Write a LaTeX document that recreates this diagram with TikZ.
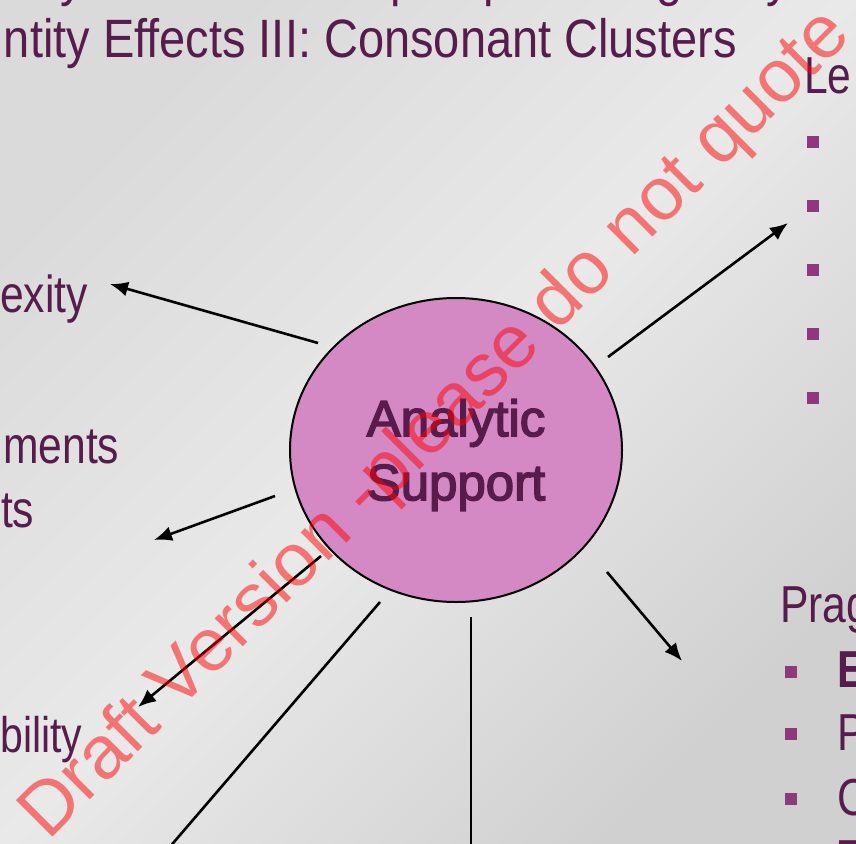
\documentclass[tikz,border=0pt]{standalone}
\usepackage{fontspec}
\usepackage{tikz}
\usetikzlibrary{arrows.meta}
\usetikzlibrary{shapes.geometric}
\newfontfamily\titlefont{Liberation Sans}[FakeStretch=0.87]
\newfontfamily\slidefont{Liberation Sans}[FakeStretch=0.82]
\newfontfamily\hubfont{Liberation Sans}[FakeBold=3]
\newfontfamily\stampfont{Liberation Sans}
\definecolor{plum}{HTML}{581C4C}
\definecolor{bulletplum}{HTML}{8C3A7C}
\definecolor{hubpink}{HTML}{D488C4}
\definecolor{bgmid}{HTML}{E9E9E9}
\definecolor{bgtop}{HTML}{DADADA}
\definecolor{bgbottom}{HTML}{D0D0D0}
\tikzset{
    slidetext/.style={text=plum, inner sep=0pt, font=\slidefont\fontsize{52}{60}\selectfont},
    titletext/.style={slidetext, font=\titlefont\fontsize{54}{62}\selectfont},
    bulletsq/.style={fill=bulletplum, minimum size=12.5pt, inner sep=0pt},
    spoke/.style={line width=2.6pt},
    spokearrow/.style={spoke, -{Latex[length=18pt,width=15pt]}}
}

\begin{document}
\begin{tikzpicture}[x=1pt, y=-1pt]
\useasboundingbox (0,0) rectangle (856,843);
\shade[top color=bgtop, bottom color=bgbottom, middle color=bgmid, shading angle=45] (0,0) rectangle (856,843);

% title, upper line mostly off the page
\foreach \x/\g in {60/y, 390/p, 483/p, 656/g, 766/y}{
    \node[titletext, anchor=base west] (top\x) at (\x,-4) {\g};
}
\node[titletext, anchor=base east] (title) at (737,58) {ntity Effects III: Consonant Clusters};

% left labels
\foreach \x/\y/\p/\t in {88/312/lexity/exity, 119.5/463/lments/ments, 34.5/527/lts/ts}{
    \node[slidetext, anchor=base east] (\p) at (\x,\y) {\t};
}
\node[slidetext, anchor=base east, font=\slidefont\fontsize{50}{58}\selectfont] (lbility) at (82.5,752) {bility};

% right lists
\node[slidetext, anchor=base west] (lex) at (804,93) {Le};
\foreach \y in {142,206,270,334,398}
    \node[bulletsq] (lexb\y) at (813,\y) {};
\node[slidetext, anchor=base west] (prag) at (780,622) {Prag};
\foreach \y in {672,734,799}
    \node[bulletsq] (pragb\y) at (791,\y) {};
\node[slidetext, anchor=base west] (pragE) at (837,687) {\bfseries E};
\node[slidetext, anchor=base west] (pragP) at (837,750) {P};
\node[slidetext, anchor=base west] (pragC) at (837,815) {C};
\node[slidetext, anchor=base west] (pragT) at (838,876) {T};

% hub
\node[ellipse, draw, line width=2pt, fill=hubpink, minimum width=332pt, minimum height=304pt, inner sep=0pt] (hub) at (456,450) {};
\node[text=plum, align=center, inner sep=0pt, font=\hubfont\fontsize{51}{64}\selectfont] (hubtext) at ([yshift=-5pt]hub.center) {Analytic\\Support};

% spokes
\foreach \x/\y/\p in {318/343/exout, 110/284/exin, 275/496/tsout, 154/540/tsin, 321/556/biout, 138/707/biin,
    380/602/lowout, 150/870/lowend, 471/617/midout, 471/870/midend, 607/572/pragout, 682/661/pragin, 608/357/lexout, 788/223/lexin}{
    \coordinate (\p) at (\x,\y);
}
\foreach \a/\b in {exout/exin, tsout/tsin, biout/biin, pragout/pragin, lexout/lexin}
    \draw[spokearrow] (\a) -- (\b);
\draw[spoke] (lowout) -- (lowend);
\draw[spoke] (midout) -- (midend);

% stamp on top
\node[anchor=base west, rotate=45, inner sep=0pt, text=red, text opacity=0.5, font=\stampfont\fontsize{75}{90}\selectfont] (draftmark) at (48,842) {Draft Version -please do not quote};
\end{tikzpicture}
\end{document}
